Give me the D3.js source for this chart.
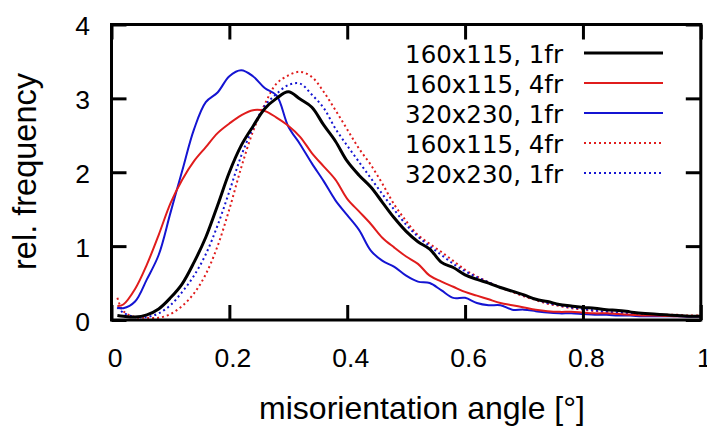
<!DOCTYPE html>
<html>
<head>
    <meta charset="utf-8">
    <title>misorientation</title>
    <script src="https://cdn.jsdelivr.net/npm/d3@7"></script>
    <style>
        body { margin: 0; background: #fff; }
    </style>
</head>
<body>
    <div id="chart"></div>
    <script>
        var width = 707,
            height = 428;

        // misorientation angle grid
        var angles = [0.01, 0.02, 0.04, 0.06, 0.08, 0.10, 0.12, 0.14, 0.16, 0.18,
                      0.20, 0.22, 0.24, 0.26, 0.28, 0.30, 0.32, 0.34, 0.36, 0.38,
                      0.40, 0.42, 0.44, 0.46, 0.48, 0.50, 0.52, 0.54, 0.56, 0.58,
                      0.60, 0.62, 0.64, 0.66, 0.68, 0.70, 0.72, 0.74, 0.76, 0.78,
                      0.80, 0.82, 0.84, 0.86, 0.88, 0.90, 0.92, 0.94, 0.96, 0.98, 1.00];

        var black1fr = [0.06, 0.05, 0.04, 0.07, 0.15, 0.30, 0.49, 0.78, 1.12, 1.55,
                        2.00, 2.36, 2.62, 2.86, 3.00, 3.09, 2.99, 2.88, 2.64, 2.42,
                        2.15, 1.96, 1.80, 1.59, 1.38, 1.20, 1.06, 0.96, 0.78, 0.71,
                        0.61, 0.55, 0.50, 0.44, 0.39, 0.34, 0.28, 0.25, 0.21, 0.19,
                        0.17, 0.16, 0.14, 0.13, 0.11, 0.09, 0.08, 0.07, 0.06, 0.05, 0.05];

        var red4fr = [0.19, 0.21, 0.42, 0.75, 1.15, 1.58, 1.90, 2.15, 2.34, 2.53,
                      2.66, 2.77, 2.84, 2.83, 2.74, 2.63, 2.48, 2.26, 2.08, 1.90,
                      1.64, 1.47, 1.30, 1.11, 0.98, 0.86, 0.76, 0.60, 0.52, 0.45,
                      0.38, 0.33, 0.28, 0.23, 0.20, 0.17, 0.14, 0.12, 0.11, 0.11,
                      0.10, 0.09, 0.09, 0.08, 0.07, 0.06, 0.06, 0.055, 0.05, 0.05, 0.05];

        var blue1fr = [0.17, 0.16, 0.25, 0.55, 0.88, 1.45, 2.02, 2.58, 2.95, 3.08,
                       3.30, 3.38, 3.30, 3.14, 3.04, 2.62, 2.38, 2.12, 1.88, 1.62,
                       1.42, 1.22, 0.94, 0.80, 0.72, 0.60, 0.52, 0.50, 0.40, 0.30,
                       0.30, 0.23, 0.20, 0.20, 0.14, 0.14, 0.12, 0.10, 0.09, 0.09,
                       0.08, 0.07, 0.07, 0.06, 0.06, 0.05, 0.05, 0.05, 0.05, 0.045, 0.045];

        var red4frDot = [0.30, 0.12, 0.04, 0.03, 0.03, 0.08, 0.19, 0.36, 0.62, 1.00,
                         1.50, 2.06, 2.55, 2.92, 3.20, 3.31, 3.36, 3.29, 3.09, 2.84,
                         2.58, 2.32, 2.10, 1.84, 1.56, 1.34, 1.15, 1.03, 0.92, 0.80,
                         0.68, 0.59, 0.51, 0.44, 0.38, 0.32, 0.27, 0.22, 0.19, 0.16,
                         0.14, 0.12, 0.11, 0.10, 0.09, 0.08, 0.08, 0.07, 0.07, 0.06, 0.06];

        var blue1frDot = [0.17, 0.10, 0.04, 0.04, 0.09, 0.20, 0.38, 0.60, 0.89, 1.28,
                          1.74, 2.22, 2.60, 2.90, 3.06, 3.18, 3.20, 3.05, 2.87, 2.59,
                          2.36, 2.14, 1.92, 1.70, 1.49, 1.29, 1.13, 1.00, 0.88, 0.76,
                          0.66, 0.58, 0.51, 0.44, 0.39, 0.33, 0.28, 0.23, 0.20, 0.17,
                          0.15, 0.13, 0.11, 0.10, 0.09, 0.08, 0.07, 0.06, 0.06, 0.05, 0.05];

        var xTicks = [0, 0.2, 0.4, 0.6, 0.8, 1];
        var yTicks = [0, 1, 2, 3, 4];

        var series = [
            {name: "160x115, 1fr", values: black1fr,   color: "#000000", w: 3, dash: null},
            {name: "160x115, 4fr", values: red4fr,     color: "#e01c1c", w: 2, dash: null},
            {name: "320x230, 1fr", values: blue1fr,    color: "#1414d2", w: 2, dash: null},
            {name: "160x115, 4fr", values: red4frDot,  color: "#e01c1c", w: 2, dash: "2,3"},
            {name: "320x230, 1fr", values: blue1frDot, color: "#1414d2", w: 2, dash: "2,3"}
        ];

        // plot box (window.top is reserved, so no "top" here)
        var plotL = 111.5, plotR = 700.8, plotT = 24.5, plotB = 320;

        var x = d3.scaleLinear().domain([0, 1]).range([plotL, plotR]);
        var y = d3.scaleLinear().domain([0, 4]).range([plotB, plotT]);

        var svg = d3.select("#chart").append("svg")
            .attr("width", width)
            .attr("height", height);

        svg.append("rect").attr("width", width).attr("height", height).attr("fill", "#fff");

        svg.append("clipPath").attr("id", "clip")
            .append("rect")
            .attr("x", plotL).attr("y", plotT)
            .attr("width", plotR - plotL).attr("height", plotB - plotT);

        var line = d3.line()
            .x(function(d, i){ return x(angles[i]); })
            .y(function(d){ return y(d); })
            .curve(d3.curveCatmullRom);

        var curves = svg.append("g").attr("clip-path", "url(#clip)");

        // draw dotted first, solid on top
        [3, 4, 2, 1, 0].forEach(function(k){
            var s = series[k];
            curves.append("path")
                .attr("d", line(s.values))
                .attr("fill", "none")
                .attr("stroke", s.color)
                .attr("stroke-width", s.w)
                .attr("stroke-dasharray", s.dash)
                .attr("stroke-linejoin", "round");
        });

        // axes with inward ticks on all four sides
        var tickLen = 15;
        var fontTicks = "'Liberation Sans', Arial, sans-serif";
        var fmt = d3.format("");

        var axB = svg.append("g").attr("transform", "translate(0," + plotB + ")")
            .call(d3.axisBottom(x).tickValues(xTicks).tickSize(-tickLen).tickSizeOuter(0)
                .tickFormat(fmt).tickPadding(47));
        var axT = svg.append("g").attr("transform", "translate(0," + plotT + ")")
            .call(d3.axisTop(x).tickValues(xTicks).tickSize(-tickLen).tickSizeOuter(0).tickFormat(""));
        var axL = svg.append("g").attr("transform", "translate(" + plotL + ",0)")
            .call(d3.axisLeft(y).tickValues(yTicks).tickSize(-tickLen).tickSizeOuter(0)
                .tickFormat(fmt).tickPadding(21.5));
        var axR = svg.append("g").attr("transform", "translate(" + plotR + ",0)")
            .call(d3.axisRight(y).tickValues(yTicks).tickSize(-tickLen).tickSizeOuter(0).tickFormat(""));

        [axB, axT, axL, axR].forEach(function(a){
            a.select(".domain").remove();
            a.selectAll(".tick line").attr("stroke", "#000").attr("stroke-width", 3);
            a.selectAll("text").attr("fill", "#000")
                .style("font-family", fontTicks).style("font-size", "26.5px");
        });
        axB.selectAll(".tick text").attr("dy", "0").attr("dx", "3");
        axL.selectAll(".tick text").attr("dy", "0.38em");

        svg.append("rect")
            .attr("x", plotL).attr("y", plotT)
            .attr("width", plotR - plotL).attr("height", plotB - plotT)
            .attr("fill", "none").attr("stroke", "#000").attr("stroke-width", 3);

        // axis titles
        svg.append("text")
            .attr("x", 422)
            .attr("y", 419)
            .attr("text-anchor", "middle")
            .style("font-family", fontTicks).style("font-size", "32px")
            .text("misorientation angle [°]");

        svg.append("text")
            .attr("transform", "translate(36,171.5) rotate(-90)")
            .attr("text-anchor", "middle")
            .style("font-family", fontTicks).style("font-size", "32.5px")
            .text("rel. frequency");

        // legend
        var legend = svg.append("g");
        series.forEach(function(s, i){
            var yb = 63 + i * 30;
            legend.append("text")
                .attr("x", 563).attr("y", yb)
                .attr("text-anchor", "end")
                .style("font-family", "'DejaVu Sans', sans-serif").style("font-size", "24.5px")
                .text(s.name);
            legend.append("line")
                .attr("x1", 584).attr("x2", 663)
                .attr("y1", yb - 10).attr("y2", yb - 10)
                .attr("stroke", s.color)
                .attr("stroke-width", s.w)
                .attr("stroke-dasharray", s.dash);
        });
    </script>
</body>
</html>
